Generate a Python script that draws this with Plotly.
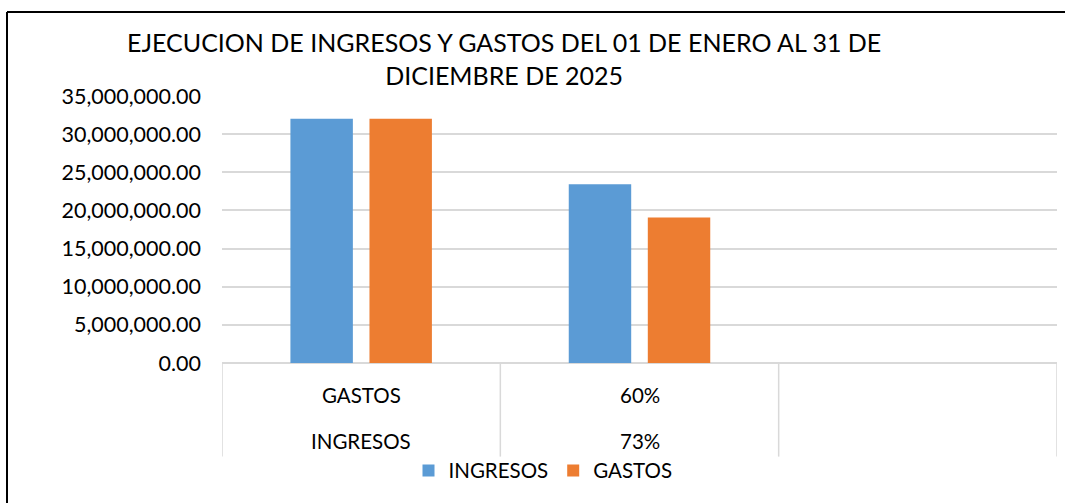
import plotly.graph_objects as go

# ---- data ----
categories_row1 = ["GASTOS", "60%", ""]
categories_row2 = ["INGRESOS", "73%", ""]
ingresos = [32030000, 23440000, None]
gastos = [32030000, 19070000, None]
series_names = ["INGRESOS", "GASTOS"]
series_colors = ["#5B9BD5", "#ED7D31"]
title_lines = ["EJECUCION DE INGRESOS Y GASTOS DEL 01 DE ENERO AL 31 DE", "DICIEMBRE DE 2025"]

W, H = 1065, 503
PL, PR, PT, PB = 222, 1057, 96, 363.3  # plot area in px

def px_x(px):
    return (px - PL) / (PR - PL)

def px_y(py):
    return (PB - py) / (PB - PT)

FONT = "Lato"
positions = list(range(len(categories_row1)))

fig = go.Figure()
for name, vals, col in zip(series_names, [ingresos, gastos], series_colors):
    fig.add_trace(go.Bar(x=positions, y=vals, name=name, marker_color=col,
                         marker_line_width=0))

fig.update_layout(
    width=W, height=H, autosize=False,
    margin=dict(l=PL, r=W - PR, t=PT, b=H - PB, pad=0),
    paper_bgcolor="white", plot_bgcolor="white",
    barmode="group", bargap=0.432, bargroupgap=0.21,
    font=dict(family=FONT, color="#000000", size=21),
    showlegend=True,
    legend=dict(orientation="h", x=px_x(543), xanchor="center",
                y=px_y(471), yanchor="middle", font=dict(size=20.5, family=FONT),
                itemsizing="constant", bgcolor="rgba(0,0,0,0)"),
)

fig.update_xaxes(range=[-0.5, len(positions) - 0.5], showticklabels=False,
                 showgrid=False, zeroline=False, showline=False, ticks="")
fig.update_yaxes(range=[0, 35000000], dtick=5000000, tickformat=",.2f",
                 showgrid=True, gridcolor="#D9D9D9", gridwidth=1.5,
                 zeroline=True, zerolinecolor="#D9D9D9", zerolinewidth=1.5,
                 showline=False, ticks="", ticklabelstandoff=20,
                 tickfont=dict(size=21.5, family=FONT, color="#000000"))

# title
fig.add_annotation(text="<br>".join(title_lines), xref="paper", yref="paper",
                   x=px_x(504), y=px_y(58), xanchor="center", yanchor="middle",
                   showarrow=False, font=dict(size=25, family=FONT, color="#000000"),
                   align="center")

# category labels (two rows)
for i, (a, b) in enumerate(zip(categories_row1, categories_row2)):
    if a:
        fig.add_annotation(text=a, x=i, xref="x", yref="paper", y=px_y(395),
                           showarrow=False, yanchor="middle",
                           font=dict(size=20.5, family=FONT, color="#000000"))
    if b:
        fig.add_annotation(text=b, x=i, xref="x", yref="paper", y=px_y(441),
                           showarrow=False, yanchor="middle",
                           font=dict(size=20.5, family=FONT, color="#000000"))

# category separator lines
for k in range(len(positions) + 1):
    fig.add_shape(type="line", xref="x", yref="paper", x0=k - 0.5, x1=k - 0.5,
                  y0=0, y1=px_y(457), line=dict(color="#D9D9D9", width=1.5))

# chart border (top and left)
fig.add_shape(type="line", xref="paper", yref="paper", x0=px_x(7), x1=px_x(1066),
              y0=px_y(12), y1=px_y(12), line=dict(color="#000000", width=2))
fig.add_shape(type="line", xref="paper", yref="paper", x0=px_x(7), x1=px_x(7),
              y0=px_y(12), y1=px_y(504), line=dict(color="#000000", width=2))

fig.write_html("out.html", config={"displayModeBar": False},
               post_script="document.body.style.margin='0';document.body.style.overflow='hidden';")
